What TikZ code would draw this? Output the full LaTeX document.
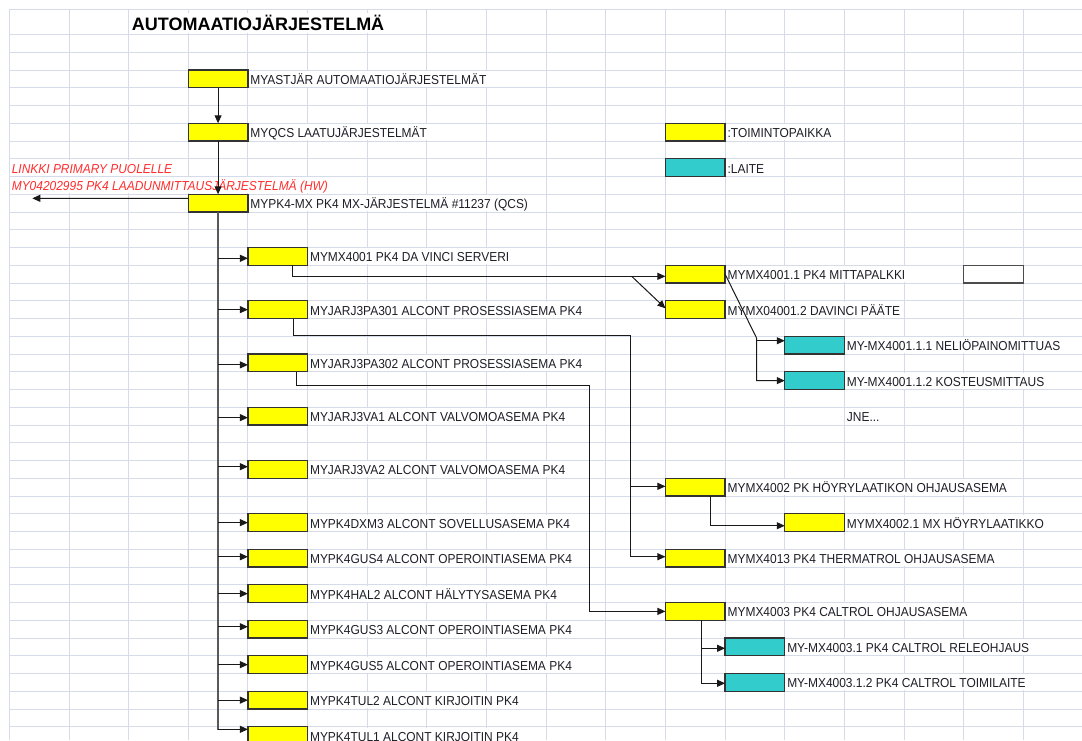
\documentclass[tikz,border=0pt]{standalone}
\usepackage{fontspec}
\usetikzlibrary{arrows.meta}
\newfontfamily\xlfont[FakeStretch=0.92]{Liberation Sans}
\newfontfamily\xltitle{Liberation Sans}
\definecolor{gridc}{RGB}{214,219,233}
\definecolor{xyellow}{RGB}{255,255,0}
\definecolor{xcyan}{RGB}{51,204,204}
\definecolor{xred}{RGB}{255,45,45}
\definecolor{xtext}{RGB}{30,30,40}
\definecolor{xline}{RGB}{25,25,25}
\begin{document}
\begin{tikzpicture}[x=1pt,y=-1pt,
  gridline/.style={draw=gridc,line width=0.9pt},
  cell/.style={draw=black!80,line width=1.3pt,minimum width=59.65pt,minimum height=17.75pt,anchor=north west,inner sep=0pt,outer sep=0pt},
  ybox/.style={cell,fill=xyellow},
  cbox/.style={cell,fill=xcyan},
  wbox/.style={cell,fill=white,draw=black!70},
  lbl/.style={anchor=west,xshift=0.7pt,fill=white,inner xsep=1.6pt,inner ysep=0pt,minimum height=16pt,text height=10.8pt,text depth=0pt,font=\xlfont\fontsize{13}{15}\selectfont,text=xtext},
  redlbl/.style={lbl,text=xred,font=\xlfont\itshape\fontsize{13}{15}\selectfont},
  ttl/.style={lbl,xshift=0pt,inner xsep=0pt,text=black,text height=13.5pt,minimum height=20pt,font=\xltitle\bfseries\fontsize{18}{20}\selectfont},
  conn/.style={draw=xline,line width=1pt},
  trunkline/.style={draw=black!65,line width=1.3pt},
  arr/.style={conn,-{Triangle[length=8pt,width=7pt]}},
]
\useasboundingbox (0,0) rectangle (1082,740);
\clip (0,0) rectangle (1082,740);
\fill[white] (0,0) rectangle (1082,740);
% grid
\foreach \k in {0,...,17} \draw[gridline] ({9.3+59.65*\k},9.3) -- ({9.3+59.65*\k},740);
\foreach \y in {9.3,34.5,52.25} \draw[gridline] (9.3,\y) -- (1082,\y);
\foreach \k in {0,...,38} \draw[gridline] (9.3,{70+17.75*\k}) -- (1082,{70+17.75*\k});

% title
\node[ttl] (title) at (131,23.25) {AUTOMAATIOJÄRJESTELMÄ};

% main column
\node[ybox] (b0) at (188.25,70) {};
\node[ybox] (b1) at (188.25,123.25) {};
\node[ybox] (b2) at (188.25,194.25) {};
\node[lbl] (tb0) at (b0.east) {MYASTJÄR AUTOMAATIOJÄRJESTELMÄT};
\node[lbl] (tb1) at (b1.east) {MYQCS LAATUJÄRJESTELMÄT};
\node[lbl] (tb2) at (b2.east) {MYPK4-MX PK4 MX-JÄRJESTELMÄ \#11237 (QCS)};

% red link text
\node[redlbl] (red1) at (9.3,167.6) {LINKKI PRIMARY PUOLELLE};
\node[redlbl] (red2) at (9.3,185.4) {MY04202995 PK4 LAADUNMITTAUSJÄRJESTELMÄ (HW)};

% legend
\node[ybox] (leg1) at (665.45,123.25) {};
\node[cbox] (leg2) at (665.45,158.75) {};
\node[lbl] (tleg1) at (leg1.east) {:TOIMINTOPAIKKA};
\node[lbl] (tleg2) at (leg2.east) {:LAITE};

% children of MYPK4-MX
\node[ybox] (c1) at (247.9,247.5) {};
\node[ybox] (c2) at (247.9,300.75) {};
\node[ybox] (c3) at (247.9,354) {};
\node[ybox] (c4) at (247.9,407.25) {};
\node[ybox] (c5) at (247.9,460.5) {};
\node[ybox] (c6) at (247.9,513.75) {};
\node[ybox] (c7) at (247.9,549.25) {};
\node[ybox] (c8) at (247.9,584.75) {};
\node[ybox] (c9) at (247.9,620.25) {};
\node[ybox] (c10) at (247.9,655.75) {};
\node[ybox] (c11) at (247.9,691.25) {};
\node[ybox] (c12) at (247.9,726.75) {};
\node[lbl] (tc1) at (c1.east) {MYMX4001 PK4 DA VINCI SERVERI};
\node[lbl] (tc2) at (c2.east) {MYJARJ3PA301 ALCONT PROSESSIASEMA PK4};
\node[lbl] (tc3) at (c3.east) {MYJARJ3PA302 ALCONT PROSESSIASEMA PK4};
\node[lbl] (tc4) at (c4.east) {MYJARJ3VA1 ALCONT VALVOMOASEMA PK4};
\node[lbl] (tc5) at (c5.east) {MYJARJ3VA2 ALCONT VALVOMOASEMA PK4};
\node[lbl] (tc6) at (c6.east) {MYPK4DXM3 ALCONT SOVELLUSASEMA PK4};
\node[lbl] (tc7) at (c7.east) {MYPK4GUS4 ALCONT OPEROINTIASEMA PK4};
\node[lbl] (tc8) at (c8.east) {MYPK4HAL2 ALCONT HÄLYTYSASEMA PK4};
\node[lbl] (tc9) at (c9.east) {MYPK4GUS3 ALCONT OPEROINTIASEMA PK4};
\node[lbl] (tc10) at (c10.east) {MYPK4GUS5 ALCONT OPEROINTIASEMA PK4};
\node[lbl] (tc11) at (c11.east) {MYPK4TUL2 ALCONT KIRJOITIN PK4};
\node[lbl] (tc12) at (c12.east) {MYPK4TUL1 ALCONT KIRJOITIN PK4};

% right side
\node[ybox] (r1) at (665.45,265.25) {};
\node[ybox] (r2) at (665.45,300.75) {};
\node[wbox] (w1) at (963.7,265.25) {};
\node[cbox] (d1) at (784.75,336.25) {};
\node[cbox] (d2) at (784.75,371.75) {};
\node[ybox] (r3) at (665.45,478.25) {};
\node[ybox] (r31) at (784.75,513.75) {};
\node[ybox] (r4) at (665.45,549.25) {};
\node[ybox] (r5) at (665.45,602.5) {};
\node[cbox] (d3) at (725.1,638) {};
\node[cbox] (d4) at (725.1,673.5) {};
\node[lbl] (tr1) at (r1.east) {MYMX4001.1 PK4 MITTAPALKKI};
\node[lbl] (tr2) at (r2.east) {MYMX04001.2 DAVINCI PÄÄTE};
\node[lbl] (td1) at (d1.east) {MY-MX4001.1.1 NELIÖPAINOMITTUAS};
\node[lbl] (td2) at (d2.east) {MY-MX4001.1.2 KOSTEUSMITTAUS};
\node[lbl] (jne) at (844.4,416.1) {JNE...};
\node[lbl] (tr3) at (r3.east) {MYMX4002 PK HÖYRYLAATIKON OHJAUSASEMA};
\node[lbl] (tr31) at (r31.east) {MYMX4002.1 MX HÖYRYLAATIKKO};
\node[lbl] (tr4) at (r4.east) {MYMX4013 PK4 THERMATROL OHJAUSASEMA};
\node[lbl] (tr5) at (r5.east) {MYMX4003 PK4 CALTROL OHJAUSASEMA};
\node[lbl] (td3) at (d3.east) {MY-MX4003.1 PK4 CALTROL RELEOHJAUS};
\node[lbl] (td4) at (d4.east) {MY-MX4003.1.2 PK4 CALTROL TOIMILAITE};

% connectors: main column
\draw[arr] (b0.south) -- (b1.north);
\draw[arr] (b1.south) -- (b2.north);
\coordinate (linkend) at (32.3,198.3);
\draw[arr] ([yshift=4.8pt]b2.west) -- (linkend);
\coordinate (trunkend) at (217.5,730);
\draw[trunkline] (b2.south) -- (b2.south |- trunkend);
\foreach \n/\s in {1/-1.9,2/0,3/-2,4/-1.5,5/2.7,6/0,7/1.4,8/0,9/2.4,10/0,11/0,12/6.3}{
  \coordinate (e\n) at ([yshift=\s pt]c\n.west);
  \draw[arr] (e\n -| b2.south) -- (e\n);
}

% MYMX4001 -> MYMX4001.1 / MYMX04001.2
\draw[arr] ([xshift=-15.2pt]c1.south east) |- ([yshift=-2.2pt]r1.west);
\coordinate (sp1) at (631.7,276.3);
\draw[arr] (sp1) -- ([yshift=1.3pt]r2.west);

% MYMX4001.1 -> devices
\coordinate (jn1) at (756.7,338.3);
\coordinate (ed1) at ([yshift=4.4pt]d1.west);
\draw[arr] (r1.east) -- (jn1) |- (d2.west);
\draw[arr] (jn1 |- ed1) -- (ed1);

% PA301 -> MYMX4002 / MYMX4013
\coordinate (jn2) at (630.3,335);
\coordinate (er3) at ([yshift=0.8pt]r3.west);
\draw[arr] ([xshift=-14.25pt]c2.south east) |- (jn2) |- ([yshift=1.4pt]r4.west);
\draw[arr] (jn2 |- er3) -- (er3);

% PA302 -> MYMX4003
\coordinate (jn3) at (589.3,385.3);
\draw[arr] ([xshift=-10.85pt]c3.south east) |- (jn3) |- (r5.west);

% MYMX4002 -> MYMX4002.1
\draw[arr] ([xshift=-15.1pt]r3.south east) |- ([yshift=-3.1pt]r31.west);

% MYMX4003 -> devices
\coordinate (jn5) at ([xshift=-23.4pt]r5.south east);
\coordinate (ed3) at ([yshift=-1.4pt]d3.west);
\draw[arr] (jn5) |- ([yshift=-0.9pt]d4.west);
\draw[arr] (jn5 |- ed3) -- (ed3);
\end{tikzpicture}
\end{document}
